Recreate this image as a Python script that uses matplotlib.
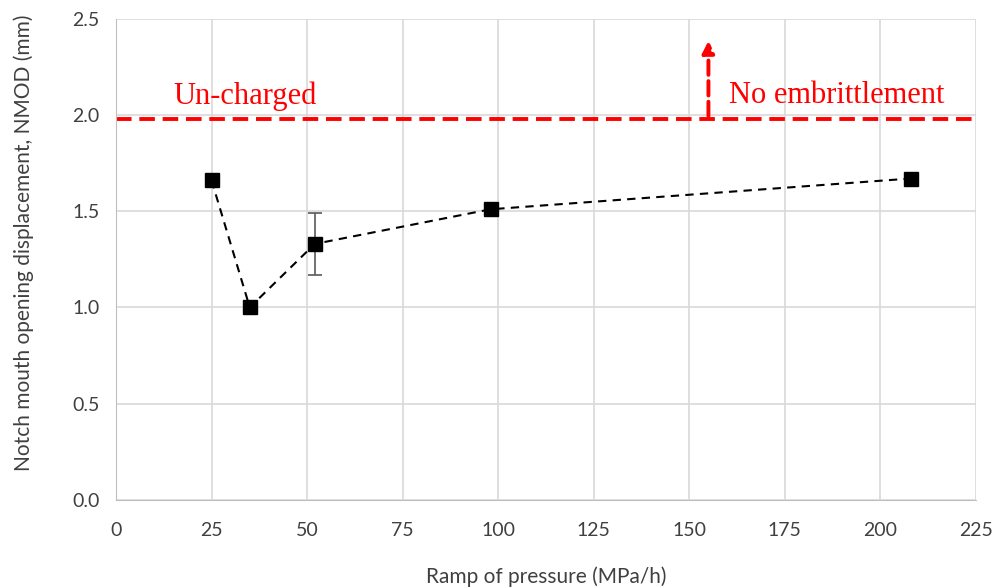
import matplotlib.pyplot as plt

ramp = [25, 35, 52, 98, 208]
nmod = [1.66, 1.0, 1.33, 1.51, 1.67]
nmod_err = [0.0, 0.0, 0.16, 0.0, 0.0]
uncharged = 1.98

fig = plt.figure(figsize=(10, 5.88), dpi=100)
ax = fig.add_axes([0.116, 0.15, 0.86, 0.818])

ax.errorbar(ramp, nmod, yerr=nmod_err, color="black", linestyle="--",
            linewidth=1.5, dashes=(4, 3), marker="s", markersize=10,
            ecolor="#595959", elinewidth=1.2, capsize=5, capthick=1.2, zorder=3)

# un-charged reference
ax.axhline(uncharged, color="red", linestyle="--", linewidth=2.8, dashes=(4, 2), zorder=2)
ax.annotate("", xy=(155, 2.4), xytext=(155, uncharged),
            arrowprops=dict(arrowstyle="-|>,head_width=0.35,head_length=0.7",
                            color="red", linestyle="--", linewidth=2.8))
ax.text(15, 2.1, "Un-charged", color="red", fontsize=22,
        family="Liberation Serif", va="center")
ax.text(160.5, 2.1, "No embrittlement", color="red", fontsize=22,
        family="Liberation Serif", va="center")

ax.set_xlim(0, 225)
ax.set_ylim(0, 2.5)
ax.set_xticks(range(0, 226, 25))
ax.set_yticks([0, 0.5, 1.0, 1.5, 2.0, 2.5])
ax.set_yticklabels(["0.0", "0.5", "1.0", "1.5", "2.0", "2.5"])
ax.grid(True, color="#d9d9d9", linewidth=1.2)
ax.set_axisbelow(True)
for s in ["top", "right"]:
    ax.spines[s].set_visible(False)
for s in ["left", "bottom"]:
    ax.spines[s].set_color("#bfbfbf")
ax.tick_params(length=0, labelsize=14, pad=12, colors="#404040")
ax.tick_params(axis="x", pad=16)
for lab in ax.get_xticklabels() + ax.get_yticklabels():
    lab.set_family("Lato")

ax.set_xlabel("Ramp of pressure (MPa/h)", fontsize=15, family="Lato", color="#404040", labelpad=20)
ax.set_ylabel("Notch mouth opening displacement, NMOD (mm)", fontsize=15,
              family="Lato", color="#404040")
ax.yaxis.set_label_coords(-0.095, 0.535)

fig.savefig("out.png", dpi=100)
